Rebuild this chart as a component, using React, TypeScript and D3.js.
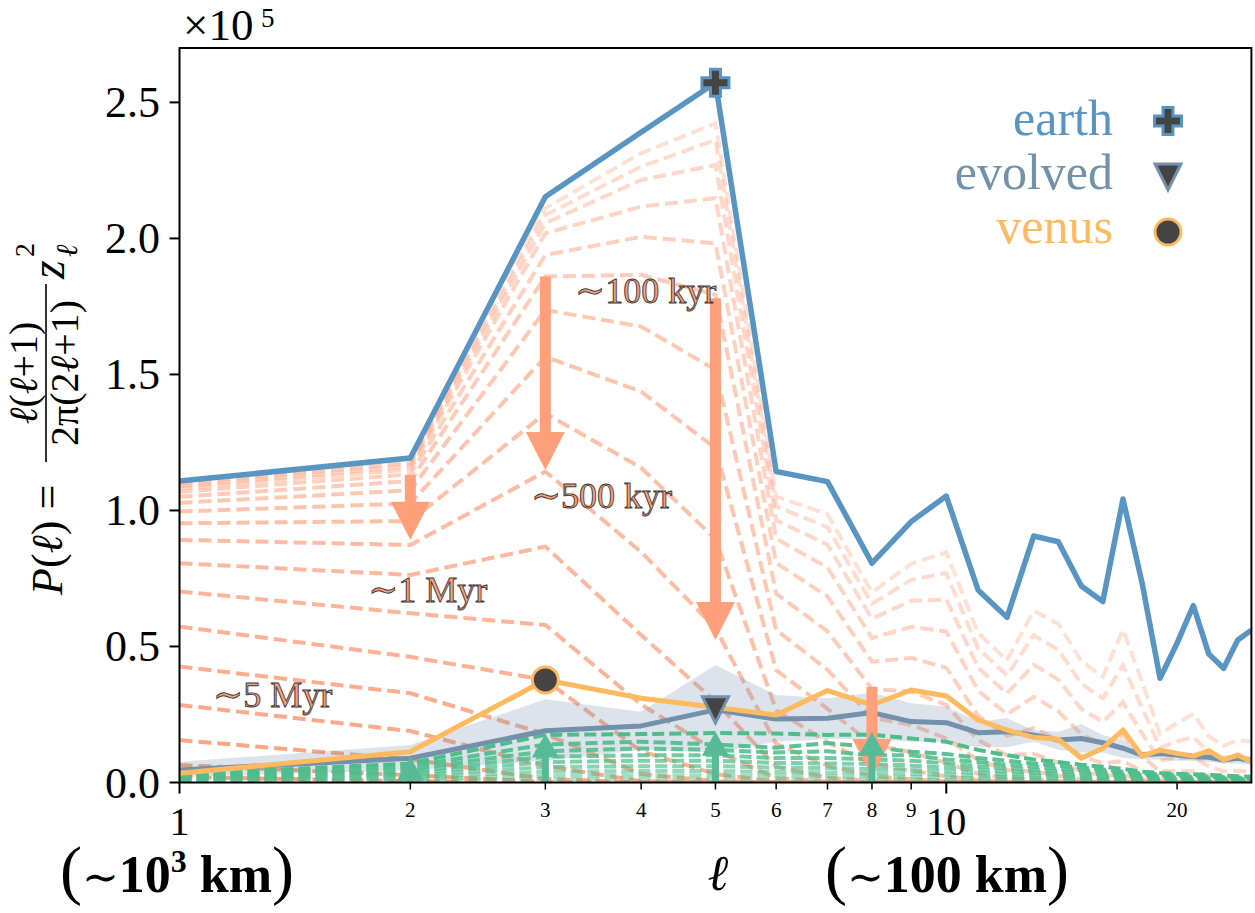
import React from "react";
import * as d3 from "d3";

// ---------- data (values in units of 1e5) ----------
const ells = [1, 2, 3, 4, 5, 6, 7, 8, 9, 10, 11, 12, 13, 14, 15, 16, 17, 18, 19, 20, 21, 22, 23, 24, 25];
const earth = [1.108, 1.193, 2.153, 2.39, 2.572, 1.143, 1.106, 0.806, 0.959, 1.053, 0.708, 0.607, 0.906, 0.885, 0.722, 0.665, 1.042, 0.735, 0.383, 0.512, 0.65, 0.472, 0.42, 0.524, 0.56];
const evolved = [0.046, 0.089, 0.19, 0.208, 0.267, 0.233, 0.236, 0.257, 0.224, 0.22, 0.183, 0.187, 0.175, 0.156, 0.162, 0.146, 0.126, 0.101, 0.107, 0.101, 0.095, 0.093, 0.083, 0.089, 0.08];
const evolvedUpper = [0.076, 0.138, 0.306, 0.26, 0.432, 0.322, 0.31, 0.33, 0.291, 0.279, 0.224, 0.236, 0.193, 0.187, 0.215, 0.175, 0.156, 0.113, 0.12, 0.11, 0.108, 0.105, 0.1, 0.1, 0.095];
const evolvedLower = [0.02, 0.045, 0.08, 0.12, 0.11, 0.15, 0.16, 0.16, 0.15, 0.15, 0.13, 0.13, 0.15, 0.12, 0.11, 0.11, 0.09, 0.085, 0.085, 0.08, 0.08, 0.075, 0.07, 0.07, 0.065];
const venus = [0.034, 0.113, 0.377, 0.31, 0.277, 0.248, 0.338, 0.285, 0.34, 0.318, 0.23, 0.193, 0.166, 0.159, 0.089, 0.126, 0.193, 0.097, 0.119, 0.107, 0.097, 0.117, 0.083, 0.101, 0.076];

// decaying spectra (earliest first)
const decayLines = [
  [1.100, 1.178, 2.111, 2.313, 2.423, 1.052, 0.986, 0.699, 0.804, 0.846, 0.550, 0.449, 0.631, 0.583, 0.446, 0.389, 0.562, 0.370, 0.178, 0.218, 0.252, 0.170, 0.135, 0.155, 0.151],
  [1.095, 1.172, 2.086, 2.264, 2.362, 1.015, 0.938, 0.657, 0.745, 0.770, 0.493, 0.394, 0.541, 0.488, 0.363, 0.309, 0.431, 0.275, 0.128, 0.151, 0.167, 0.110, 0.083, 0.092, 0.086],
  [1.088, 1.163, 2.056, 2.215, 2.270, 0.964, 0.874, 0.602, 0.668, 0.673, 0.422, 0.327, 0.433, 0.378, 0.270, 0.223, 0.295, 0.180, 0.080, 0.090, 0.093, 0.059, 0.041, 0.043, 0.039],
  [1.080, 1.151, 2.019, 2.117, 2.148, 0.896, 0.790, 0.531, 0.572, 0.555, 0.338, 0.251, 0.315, 0.262, 0.177, 0.139, 0.171, 0.098, 0.041, 0.042, 0.041, 0.024, 0.015, 0.015, 0.012],
  [1.068, 1.133, 1.939, 2.006, 1.982, 0.807, 0.684, 0.444, 0.458, 0.422, 0.246, 0.172, 0.200, 0.155, 0.097, 0.071, 0.079, 0.041, 0.016, 0.015, 0.012, 0.007, 0.004, 0.003, 0.002],
  [1.050, 1.108, 1.860, 1.866, 1.793, 0.694, 0.556, 0.344, 0.334, 0.285, 0.156, 0.100, 0.105, 0.073, 0.041, 0.027, 0.026, 0.012, 0.004, 0.003, 0.002, 0.001, 0, 0, 0],
  [1.028, 1.074, 1.737, 1.676, 1.517, 0.561, 0.414, 0.238, 0.212, 0.162, 0.082, 0.046, 0.041, 0.025, 0.012, 0.007, 0.005, 0.002, 0, 0, 0, 0, 0, 0, 0],
  [0.996, 1.026, 1.565, 1.437, 1.229, 0.413, 0.271, 0.141, 0.111, 0.072, 0.032, 0.015, 0.011, 0.005, 0.002, 0.001, 0, 0, 0, 0, 0, 0, 0, 0, 0],
  [0.953, 0.961, 1.357, 1.157, 0.895, 0.266, 0.148, 0.067, 0.044, 0.023, 0.009, 0.003, 0.002, 0, 0, 0, 0, 0, 0, 0, 0, 0, 0, 0, 0],
  [0.892, 0.873, 1.143, 0.847, 0.568, 0.142, 0.062, 0.023, 0.012, 0.004, 0.001, 0, 0, 0, 0, 0, 0, 0, 0, 0, 0, 0, 0, 0, 0],
  [0.806, 0.763, 0.867, 0.542, 0.297, 0.058, 0.018, 0.005, 0.002, 0, 0, 0, 0, 0, 0, 0, 0, 0, 0, 0, 0, 0, 0, 0, 0],
  [0.702, 0.622, 0.579, 0.287, 0.117, 0.016, 0.003, 0, 0, 0, 0, 0, 0, 0, 0, 0, 0, 0, 0, 0, 0, 0, 0, 0, 0],
  [0.573, 0.462, 0.377, 0.115, 0.031, 0.003, 0, 0, 0, 0, 0, 0, 0, 0, 0, 0, 0, 0, 0, 0, 0, 0, 0, 0, 0],
  [0.426, 0.328, 0.178, 0.031, 0.005, 0, 0, 0, 0, 0, 0, 0, 0, 0, 0, 0, 0, 0, 0, 0, 0, 0, 0, 0, 0],
  [0.285, 0.189, 0.061, 0.005, 0, 0, 0, 0, 0, 0, 0, 0, 0, 0, 0, 0, 0, 0, 0, 0, 0, 0, 0, 0, 0],
  [0.156, 0.085, 0.013, 0, 0, 0, 0, 0, 0, 0, 0, 0, 0, 0, 0, 0, 0, 0, 0, 0, 0, 0, 0, 0, 0],
  [0.064, 0.027, 0.002, 0, 0, 0, 0, 0, 0, 0, 0, 0, 0, 0, 0, 0, 0, 0, 0, 0, 0, 0, 0, 0, 0],
  [0.020, 0.005, 0, 0, 0, 0, 0, 0, 0, 0, 0, 0, 0, 0, 0, 0, 0, 0, 0, 0, 0, 0, 0, 0, 0],
];

// growing spectra (earliest first)
const growLines = [
  [0.003, 0.006, 0.012, 0.013, 0.013, 0.012, 0.012, 0.011, 0.01, 0.009, 0.008, 0.007, 0.006, 0.005, 0.005, 0.004, 0.004, 0.003, 0.003, 0.002, 0.002, 0.002, 0.002, 0.001, 0.001],
  [0.006, 0.012, 0.025, 0.027, 0.027, 0.025, 0.024, 0.022, 0.02, 0.018, 0.016, 0.014, 0.012, 0.011, 0.01, 0.009, 0.007, 0.006, 0.006, 0.005, 0.004, 0.004, 0.003, 0.003, 0.003],
  [0.009, 0.019, 0.04, 0.042, 0.042, 0.039, 0.037, 0.035, 0.032, 0.029, 0.025, 0.021, 0.019, 0.017, 0.015, 0.013, 0.011, 0.01, 0.009, 0.008, 0.007, 0.006, 0.005, 0.005, 0.004],
  [0.012, 0.026, 0.057, 0.06, 0.06, 0.055, 0.053, 0.05, 0.046, 0.041, 0.035, 0.03, 0.027, 0.024, 0.021, 0.019, 0.016, 0.014, 0.012, 0.011, 0.009, 0.008, 0.008, 0.007, 0.006],
  [0.015, 0.033, 0.075, 0.08, 0.08, 0.072, 0.07, 0.068, 0.062, 0.055, 0.047, 0.04, 0.036, 0.032, 0.028, 0.025, 0.021, 0.018, 0.016, 0.014, 0.012, 0.011, 0.01, 0.009, 0.008],
  [0.018, 0.04, 0.095, 0.1, 0.1, 0.09, 0.09, 0.085, 0.08, 0.07, 0.06, 0.052, 0.046, 0.04, 0.036, 0.032, 0.027, 0.023, 0.02, 0.018, 0.016, 0.014, 0.013, 0.012, 0.01],
  [0.022, 0.05, 0.115, 0.125, 0.12, 0.11, 0.115, 0.1, 0.1, 0.085, 0.075, 0.065, 0.058, 0.05, 0.045, 0.04, 0.034, 0.028, 0.025, 0.022, 0.02, 0.018, 0.016, 0.015, 0.013],
  [0.025, 0.06, 0.14, 0.15, 0.14, 0.128, 0.145, 0.13, 0.113, 0.105, 0.09, 0.08, 0.07, 0.062, 0.055, 0.048, 0.04, 0.034, 0.03, 0.027, 0.025, 0.022, 0.02, 0.018, 0.016],
  [0.03, 0.07, 0.175, 0.178, 0.182, 0.18, 0.175, 0.176, 0.162, 0.15, 0.12, 0.1, 0.085, 0.075, 0.065, 0.058, 0.05, 0.04, 0.035, 0.032, 0.03, 0.028, 0.025, 0.023, 0.021],
];

const decayArrows = [
  { l: 2, from: 1.13, to: 0.892 },
  { l: 3, from: 1.86, to: 1.149 },
  { l: 5, from: 1.78, to: 0.524 },
  { l: 8, from: 0.352, to: 0.02 },
];
const growArrows = [
  { l: 2, from: 0, to: 0.095 },
  { l: 3, from: 0, to: 0.18 },
  { l: 5, from: 0, to: 0.187 },
  { l: 8, from: 0, to: 0.187 },
];
const timeLabels = [
  { text: "∼100 kyr", l: 3.28, v: 1.763 },
  { text: "∼500 kyr", l: 2.873, v: 1.009 },
  { text: "∼1 Myr", l: 1.762, v: 0.665 },
  { text: "∼5 Myr", l: 1.106, v: 0.279 },
];
const earthPeak = { l: 5, v: 2.572 };
const evolvedPeak = { l: 5, v: 0.267 };
const venusPeak = { l: 3, v: 0.377 };

const yTicks = [0, 0.5, 1.0, 1.5, 2.0, 2.5];
const yTickLabels = ["0.0", "0.5", "1.0", "1.5", "2.0", "2.5"];
const xMajor = [1, 10];
const xMajorLabels = ["1", "10"];
const xMinor = [2, 3, 4, 5, 6, 7, 8, 9, 20];
const xMinorLabels = ["2", "3", "4", "5", "6", "7", "8", "9", "20"];
const legendItems = ["earth", "evolved", "venus"];

// ---------- styles ----------
const C_EARTH = "#5895c3";
const C_EVOLVED = "#7391ab";
const C_VENUS = "#ffb95e";
const C_DECAY = "#fc9e7a";
const C_ARROW = "#ffa07a";
const C_GROW = "#4dbd8b";
const C_GROW_ARROW = "#58bb97";
const C_MARK = "#444444";
const FONT = "'Liberation Serif', 'DejaVu Serif', serif";

const W = 1255, H = 913;
const M = { left: 179.5, right: 1251.4, top: 48, bottom: 782.5 };

export default function App() {
  const x = d3.scaleLog().domain([1, 25]).range([M.left, M.right]);
  const y = d3.scaleLinear().domain([0, 2.7]).range([M.bottom, M.top]);
  const line = d3.line<number>().x((_, i) => x(ells[i])).y((d) => y(d));
  const area = d3
    .area<number>()
    .x((_, i) => x(ells[i]))
    .y0((_, i) => y(evolvedLower[i]))
    .y1((d) => y(d));

  const arrowPath = (l: number, from: number, to: number, shaft: number, hw: number, hl: number) => {
    const cx = x(l);
    const y0 = y(from);
    const y1 = y(to);
    const dir = y1 > y0 ? 1 : -1;
    const len = Math.abs(y1 - y0);
    const headL = Math.min(hl, len);
    const yh = y1 - dir * headL;
    const s = shaft / 2;
    const h = hw / 2;
    return `M${cx - s},${y0} L${cx + s},${y0} L${cx + s},${yh} L${cx + h},${yh} L${cx},${y1} L${cx - h},${yh} L${cx - s},${yh} Z`;
  };
  const plusPath = (cx: number, cy: number, r: number, a: number) =>
    `M${cx - a},${cy - r} L${cx + a},${cy - r} L${cx + a},${cy - a} L${cx + r},${cy - a} L${cx + r},${cy + a} L${cx + a},${cy + a} L${cx + a},${cy + r} L${cx - a},${cy + r} L${cx - a},${cy + a} L${cx - r},${cy + a} L${cx - r},${cy - a} L${cx - a},${cy - a} Z`;
  const triPath = (cx: number, cy: number, r: number) =>
    `M${cx - r},${cy - r} L${cx + r},${cy - r} L${cx},${cy + r} Z`;

  const nD = decayLines.length;
  const nG = growLines.length;
  const legendColors = [C_EARTH, C_EVOLVED, C_VENUS];

  return (
    <svg width={W} height={H} style={{ position: "absolute", left: 0, top: 0, background: "#fff" }} fontFamily={FONT}>
      <defs>
        <clipPath id="plotclip">
          <rect x={M.left} y={M.top} width={M.right - M.left} height={M.bottom - M.top} />
        </clipPath>
      </defs>
      <rect x={0} y={0} width={W} height={H} fill="#fff" />
      <g clipPath="url(#plotclip)">
        {decayLines.map((d, i) => (
          <path key={"d" + i} d={line(d) || ""} fill="none" stroke={C_DECAY} strokeWidth={4}
            strokeDasharray="13,6" strokeOpacity={0.32 + 0.68 * (i / (nD - 1))} />
        ))}
        <path d={area(evolvedUpper) || ""} fill={C_EVOLVED} fillOpacity={0.25} stroke="none" />
        {growLines.map((d, i) => (
          <path key={"g" + i} d={line(d) || ""} fill="none" stroke={C_GROW} strokeWidth={4}
            strokeDasharray="12,5" strokeOpacity={0.45 + 0.55 * (i / (nG - 1))} />
        ))}
        <path d={line(evolved) || ""} fill="none" stroke={C_EVOLVED} strokeWidth={5} strokeLinejoin="round" />
        <path d={line(venus) || ""} fill="none" stroke={C_VENUS} strokeWidth={5} strokeLinejoin="round" />
        <path d={line(earth) || ""} fill="none" stroke={C_EARTH} strokeWidth={5.5} strokeLinejoin="round" />
        {decayArrows.map((a, i) => (
          <path key={"da" + i} d={arrowPath(a.l, a.from, a.to, 11, 39, 38)} fill={C_ARROW} />
        ))}
        {growArrows.map((a, i) => (
          <path key={"ga" + i} d={arrowPath(a.l, a.from, a.to, 7, 27, 24)} fill={C_GROW_ARROW} />
        ))}
      </g>
      {/* markers */}
      <path d={plusPath(x(earthPeak.l), y(earthPeak.v), 13.5, 5)} fill={C_MARK} stroke={C_EARTH} strokeWidth={3} strokeLinejoin="miter" />
      <path d={triPath(x(evolvedPeak.l), y(evolvedPeak.v), 13)} fill={C_MARK} stroke={C_EVOLVED} strokeWidth={3} strokeLinejoin="miter" />
      <circle cx={x(venusPeak.l)} cy={y(venusPeak.v)} r={13} fill={C_MARK} stroke={C_VENUS} strokeWidth={3} />

      {/* time annotations */}
      {timeLabels.map((t, i) => (
        <text key={"t" + i} x={x(t.l)} y={y(t.v)} fontSize={36} fill={C_DECAY} stroke="#3a3a3a" strokeWidth={0.9}>
          {t.text}
        </text>
      ))}

      {/* legend */}
      {legendItems.map((name, i) => (
        <text key={"lg" + i} x={1113} y={135 + i * 54} fontSize={50} textAnchor="end" fill={legendColors[i]}>
          {name}
        </text>
      ))}
      <path d={plusPath(1168, 121, 13.5, 5)} fill={C_MARK} stroke={C_EARTH} strokeWidth={3} />
      <path d={triPath(1168, 177, 13)} fill={C_MARK} stroke={C_EVOLVED} strokeWidth={3} />
      <circle cx={1168} cy={232} r={13} fill={C_MARK} stroke={C_VENUS} strokeWidth={3} />

      {/* spines */}
      <rect x={M.left} y={M.top} width={M.right - M.left} height={M.bottom - M.top} fill="none" stroke="#000" strokeWidth={2} />

      {/* y ticks */}
      {yTicks.map((t, i) => (
        <g key={"yt" + i}>
          <line x1={M.left - 10} x2={M.left} y1={y(t)} y2={y(t)} stroke="#000" strokeWidth={2} />
          <text x={160} y={y(t) + 15} fontSize={44} textAnchor="end" fill="#000">{yTickLabels[i]}</text>
        </g>
      ))}
      <text x={183} y={40} fontSize={45} fill="#000">×10</text>
      <text x={261} y={27} fontSize={27} fill="#000">5</text>

      {/* x ticks */}
      {xMajor.map((t, i) => (
        <g key={"xM" + i}>
          <line x1={x(t)} x2={x(t)} y1={M.bottom} y2={M.bottom + 11} stroke="#000" strokeWidth={2} />
          <text x={x(t)} y={835} fontSize={40} textAnchor="middle" fill="#000">{xMajorLabels[i]}</text>
        </g>
      ))}
      {xMinor.map((t, i) => (
        <g key={"xm" + i}>
          <line x1={x(t)} x2={x(t)} y1={M.bottom} y2={M.bottom + 7} stroke="#000" strokeWidth={1.5} />
          <text x={x(t)} y={817} fontSize={21} textAnchor="middle" fill="#000">{xMinorLabels[i]}</text>
        </g>
      ))}

      {/* x axis labels */}
      <text x={60} y={892} fill="#000">
        <tspan fontSize={66} fontWeight={300}>(</tspan>
        <tspan fontSize={44}>∼</tspan>
        <tspan fontSize={52} fontWeight="bold">10</tspan>
        <tspan fontSize={32} fontWeight="bold" dy={-20}>3</tspan>
        <tspan fontSize={52} fontWeight="bold" dy={20}> km</tspan>
        <tspan fontSize={66} fontWeight={300}>)</tspan>
      </text>
      <text x={718} y={890} fontSize={50} fontStyle="italic" textAnchor="middle" fill="#000">ℓ</text>
      <text x={825} y={892} fill="#000">
        <tspan fontSize={66} fontWeight={300}>(</tspan>
        <tspan fontSize={44}>∼</tspan>
        <tspan fontSize={52} fontWeight="bold">100 km</tspan>
        <tspan fontSize={66} fontWeight={300}>)</tspan>
      </text>

      {/* y axis label */}
      <text transform="translate(62,595) rotate(-90)" fontSize={44} fill="#000">
        <tspan fontStyle="italic">P</tspan>(<tspan fontStyle="italic">ℓ</tspan>) =
      </text>
      <text transform="translate(37,373) rotate(-90)" fontSize={40} textAnchor="middle" fill="#000">
        <tspan fontStyle="italic">ℓ</tspan>(<tspan fontStyle="italic">ℓ</tspan>+1)
      </text>
      <line x1={46} x2={46} y1={462} y2={284} stroke="#000" strokeWidth={1.6} />
      <text transform="translate(78,373) rotate(-90)" fontSize={40} textAnchor="middle" fill="#000">
        2π(2<tspan fontStyle="italic">ℓ</tspan>+1)
      </text>
      <text transform="translate(64,279) rotate(-90)" fontSize={48} fontStyle="italic" fill="#000">z</text>
      <text transform="translate(34,257) rotate(-90)" fontSize={28} fill="#000">2</text>
      <text transform="translate(77,257) rotate(-90)" fontSize={30} fontStyle="italic" fill="#000">ℓ</text>
    </svg>
  );
}
